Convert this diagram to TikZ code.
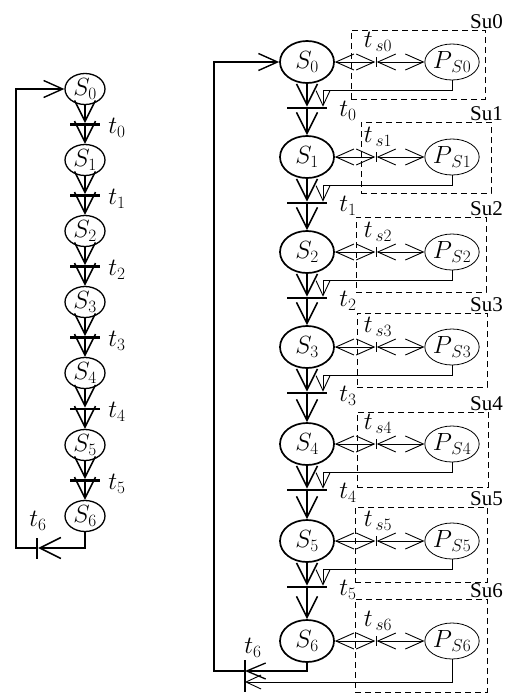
\documentclass[tikz,border=0pt]{standalone}
\usepackage{fontspec}
\newfontfamily\sufont{Liberation Serif}
\usetikzlibrary{arrows.meta,positioning,calc,fit,shapes.geometric}
\tikzset{
  lstate/.style={ellipse, draw, line width=1.3pt, minimum width=40pt, minimum height=31pt, inner sep=0pt, font=\fontsize{24}{26}\selectfont},
  rstate/.style={ellipse, draw, line width=1.7pt, minimum width=54pt, minimum height=42pt, inner sep=0pt, font=\fontsize{26}{28}\selectfont},
  pstate/.style={ellipse, draw, line width=0.8pt, minimum width=50pt, minimum height=36pt, inner sep=0pt, font=\fontsize{24}{26}\selectfont},
  hbar/.style={rectangle, fill=black, minimum height=2.2pt, inner sep=0pt},
  vbar/.style={rectangle, fill=black, minimum width=1.8pt, inner sep=0pt},
  vtick/.style={vbar, minimum width=1pt, minimum height=10pt},
  tlab/.style={inner sep=0pt, font=\fontsize{24}{26}\selectfont},
  sulab/.style={anchor=south east, inner sep=0pt, font=\sufont\fontsize{21}{23}\selectfont},
  subox/.style={draw, dash pattern=on 6pt off 4pt, line width=0.9pt, inner sep=0pt},
  chain/.style={line width=1.6pt, -{Straight Barb[length=21pt,width=21pt]}},
  parr/.style={line width=0.9pt, -{Straight Barb[length=15pt,width=14pt]}},
  dbl/.style={line width=0.9pt, {Straight Barb[length=18pt,width=16pt]}-{Straight Barb[length=18pt,width=16pt]}},
  ret/.style={line width=1.4pt, -{Straight Barb[length=19pt,width=17pt]}}
}
\begin{document}
\begin{tikzpicture}[x=1pt,y=-1pt]
\useasboundingbox (0,0) rectangle (510,693);
% left chain
\foreach \i/\y in {0/89,1/160,2/231,3/302,4/373,5/445,6/516}
  \node[lstate] (l\i) at (85,\y) {$S_\i$};
\foreach \i in {0,...,5}{
  \pgfmathtruncatemacro\j{\i+1}
  \node[hbar, minimum width=30pt] (lt\i) at ($(l\i)!0.5!(l\j)$) {};
  \node[tlab, anchor=west] (ltl\i) at ($(lt\i.east)+(8,3)$) {$t_\i$};
  \draw[chain] (l\i) -- (lt\i);
  \draw[chain] (lt\i) -- (l\j);
}
\node[vbar, minimum height=21pt] (lt6) at (37,548) {};
\node[tlab] (ltl6) at (38,521) {$t_6$};
\coordinate (lback) at (16,548);
\draw[chain] (l6.south) |- (lt6);
\draw[ret] (lt6) -- (lback) |- (l0.west);
% right chain
\foreach \i/\l/\t/\r/\b in {0/351/30/485/99,1/361/122/491/193,2/356/217/486/292,3/357/313/487/387,4/357/412/488/487,5/355/507/487/582,6/355/599/487/692}{
  \node[subox, fit={(\l,\t)(\r,\b)}] (su\i) {};
  \node[sulab] (sul\i) at (503,\t-1) {Su\i};
}
\foreach \i/\y in {0/62,1/157,2/252,3/347,4/444,5/541,6/641}{
  \node[rstate] (r\i) at (307,\y) {$S_\i$};
  \node[vtick] (ts\i) at (376,\y) {};
  \node[tlab] (tsl\i) at ($(ts\i)+(2,-20)$) {$t_{\,s\i}$};
  \node[pstate] (p\i) at (452,\y) {$P_{\,S\i}$};
  \draw[dbl] (r\i) -- (ts\i);
  \draw[dbl] (ts\i) -- (p\i);
}
\foreach \i in {0,...,5}{
  \pgfmathtruncatemacro\j{\i+1}
  \node[hbar, minimum width=40pt] (rt\i) at ($(r\i)+(0,46)$) {};
  \node[tlab, anchor=west] (rtl\i) at ($(rt\i.east)+(12,3)$) {$t_\i$};
  \coordinate (c\i) at ($(rt\i.north)+(16,-16)$);
  \draw[chain] (r\i) -- (rt\i);
  \draw[parr] (p\i.south) |- (c\i) -- (c\i |- rt\i.north);
  \draw[chain] (rt\i) -- (r\j);
}
\node[vbar, minimum height=32pt] (rt6) at (245,676) {};
\node[tlab] (rtl6) at (253,648) {$t_6$};
\coordinate (rback) at (214,671);
\draw[line width=1.3pt, -{Straight Barb[length=19pt,width=16pt]}] (r6.south) |- ($(rt6)+(0,-5)$);
\draw[parr] (p6.south) |- ($(rt6)+(0,6)$);
\draw[ret] ($(rt6)+(0,-5)$) -- (rback) |- (r0.west);
\end{tikzpicture}
\end{document}
